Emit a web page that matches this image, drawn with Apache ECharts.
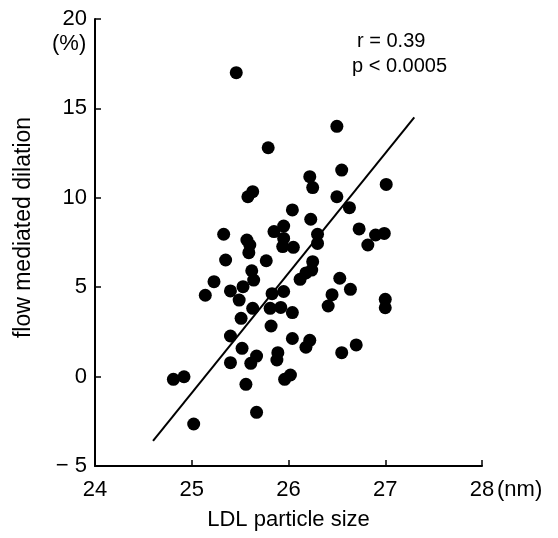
<!DOCTYPE html>
<html>
<head>
<meta charset="utf-8">
<script src="https://cdn.jsdelivr.net/npm/echarts@6/dist/echarts.min.js"></script>
<style>html,body{margin:0;padding:0;background:#fff;}#c{width:558px;height:538px;}</style>
</head>
<body>
<div id="c"></div>
<script>
// LDL particle size (nm)
const sizeNm = [
  25.46, 25.79, 26.50, 26.55, 26.22, 26.25, 27.01, 26.50, 25.63, 25.58,
  26.63, 26.04, 26.23, 26.73, 25.33, 25.85, 25.95, 25.95, 25.94, 26.05,
  26.30, 26.30, 26.82, 26.90, 26.99, 25.57, 25.60, 25.59, 25.35, 25.77,
  26.25, 26.24, 26.18, 26.12, 25.62, 25.64, 25.23, 25.14, 25.40, 25.53,
  25.49, 25.83, 25.95, 26.53, 26.64, 26.45, 26.41, 27.00, 27.00, 25.63,
  25.81, 25.92, 26.04, 25.51, 25.82, 25.40, 26.04, 26.22, 26.18, 25.52,
  25.89, 25.88, 25.67, 25.61, 25.40, 26.55, 26.70, 26.02, 25.96, 24.81,
  24.92, 25.56, 25.67, 25.02
];
// flow mediated dilation (%)
const fmdPct = [
  17.0, 12.8, 14.0, 11.55, 11.18, 10.57, 10.75, 10.06, 10.34, 10.06,
  9.45, 9.32, 8.80, 8.26, 7.96, 8.11, 8.42, 7.73, 7.27, 7.23,
  7.96, 7.45, 7.36, 7.92, 8.01, 7.64, 7.36, 6.93, 6.52, 6.48,
  6.43, 5.96, 5.80, 5.44, 5.92, 5.40, 5.31, 4.55, 4.79, 5.03,
  4.28, 4.64, 4.76, 5.50, 4.88, 4.58, 3.95, 4.32, 3.85, 3.82,
  3.82, 3.87, 3.58, 3.26, 2.83, 2.27, 2.13, 2.03, 1.64, 1.58,
  1.34, 0.93, 1.15, 0.74, 0.78, 1.34, 1.77, 0.09, -0.15, -0.15,
  -0.01, -0.43, -2.0, -2.65
];
// regression line end points
const fitX = [24.6, 27.3];
const fitY = [-3.6, 14.5];
// tick labels
const xTicks = [24, 25, 26, 27, 28];
const yTicks = [-5, 0, 5, 10, 15, 20];

const FONT = "'Liberation Sans', Arial, Helvetica, sans-serif";
const chart = echarts.init(document.getElementById('c'), null, {renderer: 'canvas'});
const pts = sizeNm.map((x, i) => [x, fmdPct[i]]);
const fit = fitX.map((x, i) => [x, fitY[i]]);

chart.setOption({
  animation: false,
  backgroundColor: '#fff',
  grid: {left: 95, right: 76, top: 19, bottom: 72, containLabel: false},
  xAxis: {
    type: 'value', min: 24, max: 28, interval: 1,
    name: 'LDL particle size', nameLocation: 'middle', nameGap: 43,
    nameTextStyle: {color: '#000', fontSize: 22, fontFamily: FONT},
    axisLine: {onZero: false, lineStyle: {color: '#000', width: 2}},
    axisTick: {inside: true, length: 6, lineStyle: {color: '#000', width: 1.5}},
    axisLabel: {color: '#000', fontSize: 22, fontFamily: FONT, margin: 13,
      formatter: v => xTicks.includes(v) ? String(v) : ''},
    splitLine: {show: false}
  },
  yAxis: {
    type: 'value', min: -5, max: 20, interval: 5,
    name: 'flow mediated dilation', nameLocation: 'middle', nameGap: 60,
    nameTextStyle: {color: '#000', fontSize: 23, fontFamily: FONT, padding: [0, 0, 0, 30]},
    axisLine: {onZero: false, lineStyle: {color: '#000', width: 2}},
    axisTick: {inside: true, length: 6, lineStyle: {color: '#000', width: 1.5}},
    axisLabel: {color: '#000', fontSize: 22, fontFamily: FONT, margin: 8,
      formatter: v => yTicks.includes(v) ? (v < 0 ? '\u2212 ' + Math.abs(v) : String(v)) : ''},
    splitLine: {show: false}
  },
  series: [
    {
      type: 'scatter', data: pts, symbol: 'circle', symbolSize: 13,
      itemStyle: {color: '#000', opacity: 1}, z: 3
    },
    {
      type: 'line', data: fit, symbol: 'none',
      lineStyle: {color: '#000', width: 2}, z: 2
    }
  ],
  graphic: [
    {type: 'text', left: 52, top: 33, style: {text: '(%)', fill: '#000', font: '22px ' + FONT}},
    {type: 'text', left: 497, top: 479, style: {text: '(nm)', fill: '#000', font: '22px ' + FONT}},
    {type: 'text', left: 357, top: 31, style: {text: 'r = 0.39', fill: '#000', font: '20px ' + FONT}},
    {type: 'text', left: 352, top: 56, style: {text: 'p < 0.0005', fill: '#000', font: '20px ' + FONT}}
  ]
});
</script>
</body>
</html>
